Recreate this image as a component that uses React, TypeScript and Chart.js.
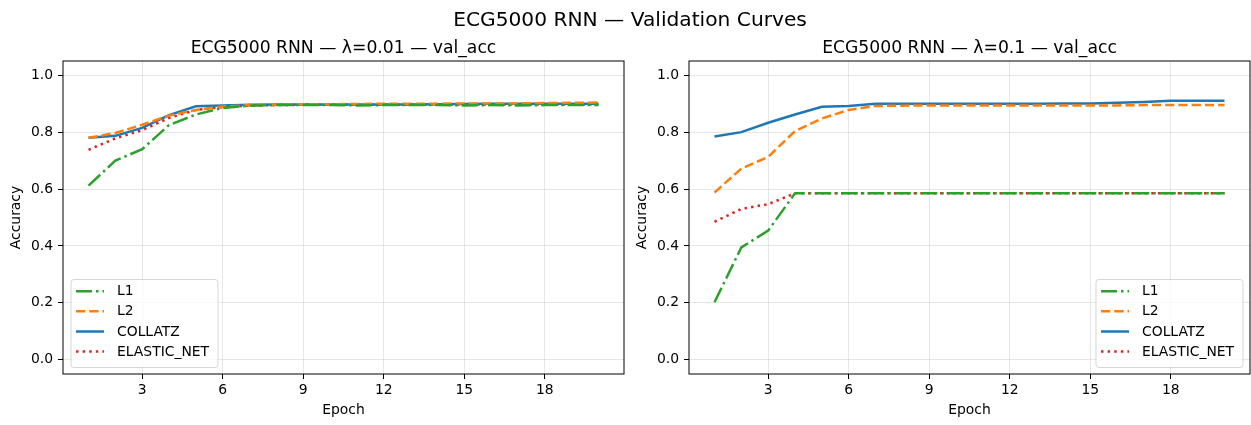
import React, { useEffect, useRef } from "react";
import { Chart, registerables } from "chart.js";

Chart.register(...registerables);

const FONT = "'DejaVu Sans', 'Liberation Sans', sans-serif";

const epochs = [1, 2, 3, 4, 5, 6, 7, 8, 9, 10, 11, 12, 13, 14, 15, 16, 17, 18, 19, 20];
const xTicks = [3, 6, 9, 12, 15, 18];
const yTicks = [0, 0.2, 0.4, 0.6, 0.8, 1.0];
const seriesNames = ["L1", "L2", "COLLATZ", "ELASTIC_NET"];

// λ = 0.01
const leftL1 = [0.612, 0.700, 0.740, 0.825, 0.862, 0.885, 0.893, 0.895, 0.895, 0.895, 0.894, 0.895, 0.895, 0.895, 0.894, 0.895, 0.894, 0.895, 0.895, 0.895];
const leftL2 = [0.780, 0.797, 0.826, 0.858, 0.878, 0.890, 0.895, 0.897, 0.898, 0.898, 0.899, 0.900, 0.900, 0.900, 0.901, 0.901, 0.901, 0.902, 0.903, 0.904];
const leftCollatz = [0.780, 0.787, 0.815, 0.860, 0.891, 0.894, 0.896, 0.897, 0.897, 0.897, 0.897, 0.897, 0.897, 0.898, 0.899, 0.900, 0.900, 0.900, 0.900, 0.900];
const leftElastic = [0.738, 0.778, 0.807, 0.850, 0.878, 0.888, 0.893, 0.895, 0.896, 0.896, 0.896, 0.896, 0.897, 0.897, 0.897, 0.897, 0.897, 0.897, 0.897, 0.897];

// λ = 0.1
const rightL1 = [0.202, 0.395, 0.454, 0.585, 0.585, 0.585, 0.585, 0.585, 0.585, 0.585, 0.585, 0.585, 0.585, 0.585, 0.585, 0.585, 0.585, 0.585, 0.585, 0.585];
const rightL2 = [0.588, 0.672, 0.713, 0.804, 0.848, 0.878, 0.892, 0.893, 0.894, 0.894, 0.894, 0.894, 0.894, 0.894, 0.894, 0.894, 0.895, 0.895, 0.895, 0.895];
const rightCollatz = [0.785, 0.800, 0.833, 0.862, 0.889, 0.892, 0.900, 0.900, 0.900, 0.900, 0.900, 0.900, 0.900, 0.901, 0.901, 0.903, 0.906, 0.910, 0.910, 0.910];
const rightElastic = [0.485, 0.530, 0.547, 0.585, 0.585, 0.585, 0.585, 0.585, 0.585, 0.585, 0.585, 0.585, 0.585, 0.585, 0.585, 0.585, 0.585, 0.585, 0.585, 0.585];

const colors = ["#2ca02c", "#ff7f0e", "#1f77b4", "#d62728"];
const LW = 2.5;
const dashes = [
  [16, 4, 2.5, 4],
  [9.25, 4],
  [],
  [2.5, 4.1],
];

function makeLegendPlugin(side: "left" | "right") {
  return {
    id: "mplDecor" + side,
    afterDatasetsDraw(chart: any) {
      const { ctx, chartArea } = chart;
      const a = chartArea;
      ctx.save();
      // spines
      ctx.strokeStyle = "#000";
      ctx.lineWidth = 1;
      ctx.setLineDash([]);
      ctx.strokeRect(a.left, a.top, a.right - a.left, a.bottom - a.top);

      // legend
      const w = 147;
      const h = 88;
      const x = side === "left" ? a.left + 8 : a.right - 7 - w;
      const y = a.bottom - 6.5 - h;
      const r = 3;
      ctx.beginPath();
      ctx.moveTo(x + r, y);
      ctx.lineTo(x + w - r, y);
      ctx.arcTo(x + w, y, x + w, y + r, r);
      ctx.lineTo(x + w, y + h - r);
      ctx.arcTo(x + w, y + h, x + w - r, y + h, r);
      ctx.lineTo(x + r, y + h);
      ctx.arcTo(x, y + h, x, y + h - r, r);
      ctx.lineTo(x, y + r);
      ctx.arcTo(x, y, x + r, y, r);
      ctx.closePath();
      ctx.fillStyle = "rgba(255,255,255,0.8)";
      ctx.fill();
      ctx.strokeStyle = "rgba(204,204,204,0.8)";
      ctx.lineWidth = 1;
      ctx.stroke();

      const rows = [11.7, 31.7, 52, 72];
      ctx.font = `13.9px ${FONT}`;
      ctx.textBaseline = "middle";
      ctx.textAlign = "left";
      seriesNames.forEach((name, i) => {
        const ry = y + rows[i];
        ctx.beginPath();
        ctx.setLineDash(dashes[i]);
        ctx.lineDashOffset = 0;
        ctx.strokeStyle = colors[i];
        ctx.lineWidth = LW;
        ctx.lineCap = "butt";
        ctx.moveTo(x + 5, ry);
        ctx.lineTo(x + 33, ry);
        ctx.stroke();
        ctx.setLineDash([]);
        ctx.fillStyle = "#000";
        ctx.fillText(name, x + 46, ry + 0.5);
      });
      ctx.restore();
    },
  };
}

function Panel(props: { series: number[][]; side: "left" | "right"; padLeft: number; padRight: number }) {
  const ref = useRef<HTMLCanvasElement | null>(null);
  useEffect(() => {
    if (!ref.current) return;
    const datasets = props.series.map((vals, i) => ({
      label: seriesNames[i],
      data: epochs.map((e, j) => ({ x: e, y: vals[j] })),
      borderColor: colors[i],
      backgroundColor: colors[i],
      borderWidth: LW,
      borderDash: dashes[i],
      borderCapStyle: "butt" as const,
      pointRadius: 0,
      tension: 0,
      fill: false,
    }));
    const chart = new Chart(ref.current, {
      type: "line",
      data: { datasets },
      plugins: [makeLegendPlugin(props.side)],
      options: {
        responsive: false,
        animation: false,
        devicePixelRatio: 1,
        layout: { padding: { left: props.padLeft, right: props.padRight, top: 61, bottom: 3 } },
        plugins: { legend: { display: false }, title: { display: false }, tooltip: { enabled: false } },
        scales: {
          x: {
            type: "linear",
            min: 0.05,
            max: 20.95,
            afterBuildTicks: (s: any) => {
              s.ticks = xTicks.map((v) => ({ value: v }));
            },
            afterFit: (s: any) => {
              s.height = 48;
            },
            ticks: {
              font: { family: FONT, size: 13.9 },
              color: "#000",
              padding: 3,
              maxRotation: 0,
              autoSkip: false,
              callback: (v: any) => String(v),
            },
            grid: {
              color: "rgba(176,176,176,0.3)",
              lineWidth: 1,
              drawTicks: true,
              tickLength: 5,
              tickColor: "#000",
              tickWidth: 1,
            },
            border: { display: false },
            title: {
              display: true,
              text: "Epoch",
              font: { family: FONT, size: 13.9 },
              color: "#000",
              padding: { top: 0, bottom: 3 },
            },
          },
          y: {
            type: "linear",
            min: -0.05,
            max: 1.05,
            afterBuildTicks: (s: any) => {
              s.ticks = yTicks.map((v) => ({ value: v }));
            },
            afterFit: (s: any) => {
              s.width = 58;
            },
            ticks: {
              font: { family: FONT, size: 13.9 },
              color: "#000",
              padding: 5,
              autoSkip: false,
              callback: (v: any) => Number(v).toFixed(1),
            },
            grid: {
              color: "rgba(176,176,176,0.3)",
              lineWidth: 1,
              drawTicks: true,
              tickLength: 5,
              tickColor: "#000",
              tickWidth: 1,
            },
            border: { display: false },
            title: {
              display: true,
              text: "Accuracy",
              font: { family: FONT, size: 13.9 },
              color: "#000",
              padding: { top: 3, bottom: 0 },
            },
          },
        },
      },
    });
    return () => chart.destroy();
  }, []);
  return <canvas ref={ref} width={props.side === "left" ? 630 : 621} height={425} style={{ display: "block" }} />;
}

function CenterText(props: { text: string; cx: number; cy: number; size: number }) {
  const lh = props.size * 1.4;
  return (
    <div
      style={{
        position: "absolute",
        left: props.cx - 300,
        width: 600,
        top: props.cy - lh / 2,
        height: lh,
        lineHeight: `${lh}px`,
        textAlign: "center",
        fontFamily: FONT,
        fontSize: props.size,
        color: "#000",
        whiteSpace: "nowrap",
      }}
    >
      {props.text}
    </div>
  );
}

export default function App() {
  useEffect(() => {
    document.body.style.margin = "0";
  }, []);
  return (
    <div style={{ position: "fixed", left: 0, top: 0, width: 1251, height: 425, background: "#fff", overflow: "hidden" }}>
      <div style={{ position: "absolute", left: 0, top: 0 }}>
        <Panel series={[leftL1, leftL2, leftCollatz, leftElastic]} side="left" padLeft={5} padRight={6} />
      </div>
      <div style={{ position: "absolute", left: 630, top: 0 }}>
        <Panel series={[rightL1, rightL2, rightCollatz, rightElastic]} side="right" padLeft={1} padRight={1} />
      </div>
      <CenterText text="ECG5000 RNN — Validation Curves" cx={630} cy={19} size={20.2} />
      <CenterText text="ECG5000 RNN — λ=0.01 — val_acc" cx={343.5} cy={47} size={17.2} />
      <CenterText text="ECG5000 RNN — λ=0.1 — val_acc" cx={969.5} cy={47} size={17.2} />
    </div>
  );
}
